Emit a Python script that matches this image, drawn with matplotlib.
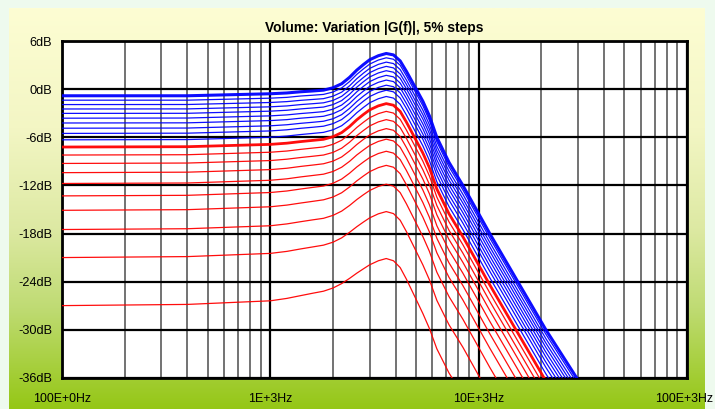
import numpy as np
import matplotlib
matplotlib.use("Agg")
import matplotlib.pyplot as plt
import matplotlib.transforms as mtransforms
from matplotlib.colors import LinearSegmentedColormap
from matplotlib.ticker import FixedLocator, NullFormatter

plt.rcParams['font.family'] = ['Liberation Sans', 'DejaVu Sans']

# frequencies where the curves were read (Hz)
freq_hz = [100, 400, 1000, 1200, 1400, 1600, 1800, 2000, 2200, 2400, 2600,
           2800, 3000, 3300, 3600, 3900, 4200, 4500, 4900, 5400, 5800, 6300,
           7200, 8400, 11300, 15400, 21000, 29500, 40000]

# volume steps (blue: upper half, red: lower half)
volume_blue = [100, 95, 90, 85, 80, 75, 70, 65, 60, 55]
volume_red = [50, 45, 40, 35, 30, 25, 20, 15, 10, 5]

# |G(f)| in dB, one row per volume step
gain_blue_db = [
    [-0.8, -0.8, -0.55, -0.45, -0.3, -0.2, -0.1, 0.2, 0.7, 1.5, 2.4, 3.1, 3.7, 4.2, 4.48, 4.3, 3.55, 2.25, 0.5, -1.5, -3.3, -6.0, -9.1, -12.0, -18.0, -24.0, -30.0, -36.0, -41.3],
    [-1.35, -1.35, -1.1, -1.0, -0.83, -0.73, -0.63, -0.33, 0.18, 0.97, 1.87, 2.56, 3.16, 3.66, 3.94, 3.76, 3.01, 1.7, -0.05, -2.06, -3.86, -6.55, -9.65, -12.55, -18.55, -24.55, -30.55, -36.55, -41.85],
    [-1.9, -1.89, -1.64, -1.53, -1.37, -1.26, -1.16, -0.85, -0.35, 0.44, 1.33, 2.03, 2.62, 3.12, 3.4, 3.22, 2.47, 1.16, -0.6, -2.61, -4.41, -7.11, -10.2, -13.1, -19.1, -25.1, -31.1, -37.1, -42.4],
    [-2.45, -2.44, -2.18, -2.07, -1.9, -1.79, -1.68, -1.38, -0.87, -0.08, 0.8, 1.49, 2.09, 2.59, 2.87, 2.68, 1.92, 0.62, -1.15, -3.17, -4.97, -7.66, -10.76, -13.65, -19.65, -25.65, -31.65, -37.65, -42.95],
    [-3.0, -2.99, -2.72, -2.61, -2.44, -2.32, -2.21, -1.9, -1.4, -0.61, 0.27, 0.96, 1.55, 2.05, 2.33, 2.14, 1.38, 0.07, -1.7, -3.72, -5.53, -8.22, -11.31, -14.2, -20.2, -26.2, -32.2, -38.2, -43.5],
    [-3.6, -3.58, -3.31, -3.19, -3.02, -2.9, -2.78, -2.47, -1.96, -1.18, -0.31, 0.38, 0.97, 1.47, 1.75, 1.56, 0.79, -0.52, -2.3, -4.33, -6.14, -8.82, -11.91, -14.8, -20.8, -26.8, -32.8, -38.8, -44.1],
    [-4.2, -4.18, -3.9, -3.78, -3.6, -3.48, -3.36, -3.04, -2.54, -1.76, -0.89, -0.21, 0.38, 0.88, 1.16, 0.97, 0.2, -1.12, -2.9, -4.94, -6.75, -9.43, -12.51, -15.4, -21.4, -27.4, -33.4, -39.4, -44.7],
    [-4.85, -4.83, -4.55, -4.42, -4.24, -4.11, -3.98, -3.67, -3.16, -2.38, -1.52, -0.84, -0.26, 0.24, 0.52, 0.33, -0.44, -1.76, -3.55, -5.6, -7.4, -10.08, -13.17, -16.05, -22.05, -28.05, -34.05, -40.05, -45.35],
    [-5.5, -5.47, -5.19, -5.05, -4.86, -4.73, -4.6, -4.28, -3.77, -3.0, -2.15, -1.47, -0.89, -0.39, -0.11, -0.31, -1.08, -2.4, -4.2, -6.25, -8.06, -10.74, -13.82, -16.7, -22.7, -28.7, -34.7, -40.7, -46.0],
    [-6.3, -6.27, -5.98, -5.83, -5.64, -5.5, -5.37, -5.05, -4.54, -3.77, -2.92, -2.25, -1.67, -1.17, -0.89, -1.09, -1.87, -3.2, -5.0, -7.06, -8.87, -11.54, -14.62, -17.5, -23.5, -29.5, -35.5, -41.5, -46.8],
]
gain_red_db = [
    [-7.2, -7.16, -6.87, -6.72, -6.52, -6.37, -6.24, -5.91, -5.4, -4.64, -3.8, -3.13, -2.56, -2.06, -1.78, -1.98, -2.75, -4.09, -5.9, -7.97, -9.78, -12.45, -15.52, -18.4, -24.4, -30.4, -36.4, -42.4, -47.7],
    [-8.2, -8.16, -7.85, -7.7, -7.49, -7.33, -7.19, -6.86, -6.35, -5.59, -4.76, -4.1, -3.53, -3.03, -2.75, -2.96, -3.74, -5.08, -6.9, -8.98, -10.8, -13.46, -16.53, -19.4, -25.4, -31.4, -37.4, -43.4, -48.7],
    [-9.25, -9.2, -8.89, -8.72, -8.51, -8.35, -8.2, -7.87, -7.35, -6.6, -5.78, -5.13, -4.56, -4.06, -3.78, -3.99, -4.77, -6.12, -7.95, -10.05, -11.86, -14.51, -17.58, -20.45, -26.45, -32.45, -38.45, -44.45, -49.75],
    [-10.4, -10.34, -10.02, -9.85, -9.62, -9.45, -9.29, -8.96, -8.44, -7.69, -6.89, -6.24, -5.68, -5.18, -4.9, -5.11, -5.9, -7.26, -9.1, -11.21, -13.03, -15.67, -18.74, -21.6, -27.6, -33.6, -39.6, -45.6, -50.9],
    [-11.75, -11.69, -11.35, -11.17, -10.93, -10.75, -10.59, -10.25, -9.72, -8.99, -8.19, -7.56, -7.0, -6.5, -6.22, -6.44, -7.23, -8.59, -10.45, -12.58, -14.4, -17.03, -20.09, -22.95, -28.95, -34.95, -40.95, -46.95, -52.25],
    [-13.3, -13.23, -12.88, -12.69, -12.44, -12.24, -12.07, -11.72, -11.2, -10.47, -9.69, -9.06, -8.51, -8.01, -7.73, -7.96, -8.76, -10.13, -12.0, -14.14, -15.97, -18.6, -21.65, -24.5, -30.5, -36.5, -42.5, -48.5, -53.8],
    [-15.1, -15.02, -14.66, -14.45, -14.19, -13.98, -13.79, -13.44, -12.91, -12.19, -11.43, -10.81, -10.27, -9.77, -9.49, -9.72, -10.53, -11.91, -13.8, -15.97, -17.79, -20.41, -23.46, -26.3, -32.3, -38.3, -44.3, -50.3, -55.6],
    [-17.5, -17.4, -17.03, -16.8, -16.52, -16.29, -16.1, -15.73, -15.2, -14.5, -13.76, -13.15, -12.62, -12.12, -11.84, -12.08, -12.89, -14.29, -16.2, -18.39, -20.22, -22.83, -25.86, -28.7, -34.7, -40.7, -46.7, -52.7, -58.0],
    [-21.0, -20.88, -20.48, -20.23, -19.92, -19.67, -19.45, -19.08, -18.54, -17.85, -17.15, -16.56, -16.04, -15.54, -15.26, -15.51, -16.34, -17.76, -19.7, -21.93, -23.77, -26.35, -29.38, -32.2, -38.2, -44.2, -50.2, -56.2, -61.5],
    [-27.0, -26.85, -26.4, -26.1, -25.75, -25.45, -25.2, -24.8, -24.25, -23.6, -22.95, -22.4, -21.9, -21.4, -21.12, -21.4, -22.25, -23.7, -25.7, -28.0, -29.85, -32.4, -35.4, -38.2, -44.2, -50.2, -56.2, -62.2, -67.5],
]

y_ticks = [6, 0, -6, -12, -18, -24, -30, -36]
y_labels = ['6dB', '0dB', '-6dB', '-12dB', '-18dB', '-24dB', '-30dB', '-36dB']
x_ticks = [100, 1000, 10000, 100000]
x_labels = ['100E+0Hz', '1E+3Hz', '10E+3Hz', '100E+3Hz']

W, H = 715, 409
fig = plt.figure(figsize=(W / 100, H / 100), dpi=100)
fig.patch.set_facecolor('#eefaee')

# gradient panel behind the chart
bg = fig.add_axes([9 / W, 0, 696 / W, 401 / H])
bg.axis('off')
panel = LinearSegmentedColormap.from_list(
    'panel', [(0.0, '#fdfdd3'), (0.3, '#f3f6c4'), (0.55, '#dde9a3'),
              (0.75, '#bfdb73'), (1.0, '#95c716')])
bg.imshow(np.linspace(0, 1, 256).reshape(-1, 1), aspect='auto', cmap=panel,
          extent=[0, 1, 1, 0])

ax = fig.add_axes([62 / W, 1 - 377.7 / H, 625 / W, 336.4 / H])
ax.set_facecolor('white')

for vol, g in zip(volume_red, gain_red_db):
    ax.plot(freq_hz, g, color='#ff0000', lw=2.0 if vol == 50 else 0.9,
            alpha=0.95, zorder=3)
for vol, g in zip(volume_blue, gain_blue_db):
    ax.plot(freq_hz, g, color='#0000ff', lw=2.2 if vol == 100 else 0.9,
            alpha=0.95, zorder=4)

ax.set_xscale('log')
ax.set_xlim(100, 100000)
ax.set_ylim(-36, 6)

ax.xaxis.set_major_locator(FixedLocator(x_ticks))
ax.set_xticklabels(x_labels)
minor = [m * d for d in (100, 1000, 10000) for m in range(2, 10)]
ax.xaxis.set_minor_locator(FixedLocator(minor))
ax.xaxis.set_minor_formatter(NullFormatter())
ax.set_yticks(y_ticks)
ax.set_yticklabels(y_labels)

ax.grid(which='major', color='black', lw=1.6, zorder=1)
ax.grid(which='minor', axis='x', color='#5a5a5a', lw=1.2, zorder=1)
ax.tick_params(which='both', length=0)
ax.tick_params(axis='y', pad=7, labelsize=9.2)
ax.tick_params(axis='x', pad=11, labelsize=8.9)
for s in ax.spines.values():
    s.set_linewidth(2)
    s.set_color('black')

# keep the last frequency label inside the picture
last = ax.get_xticklabels()[-1]
last.set_transform(last.get_transform() +
                   mtransforms.ScaledTranslation(-3 / 100, 0, fig.dpi_scale_trans))

ax.set_title('Volume: Variation |G(f)|, 5% steps', fontsize=9.9,
             fontweight='bold', pad=7)

fig.savefig('out.png', dpi=100)
